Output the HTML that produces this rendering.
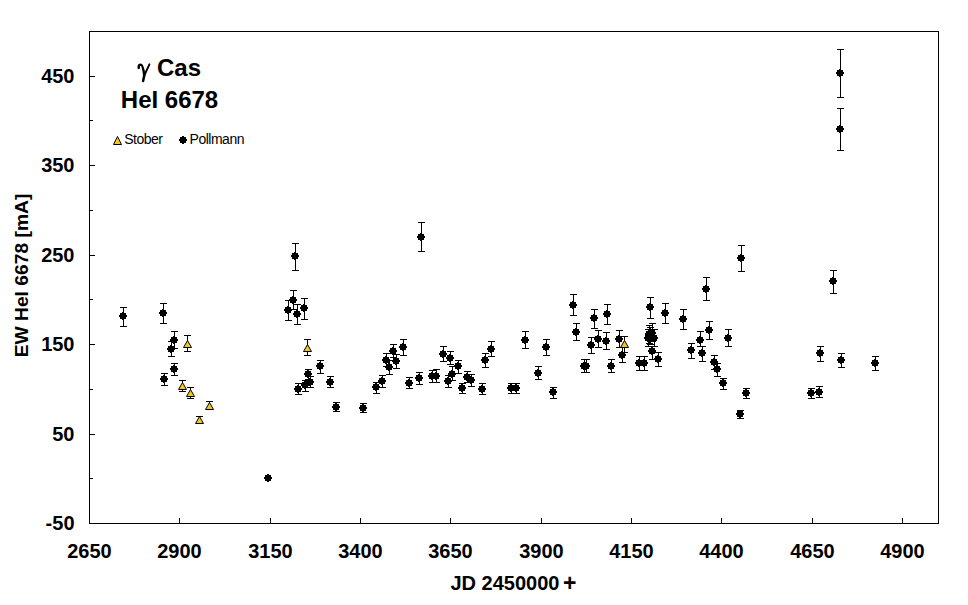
<!DOCTYPE html><html><head><meta charset="utf-8"><style>html,body{margin:0;padding:0;background:#fff;width:968px;height:605px;overflow:hidden}svg{display:block}text{font-family:"Liberation Sans",sans-serif;font-weight:bold;fill:#000}</style></head><body>
<svg width="968" height="605" viewBox="0 0 968 605" shape-rendering="crispEdges">
<rect x="0" y="0" width="968" height="605" fill="#fff"/>
<path d="M89 31H939V524H89Z M90 32V523H938V32Z" fill="#000" fill-rule="evenodd"/>
<path d="M90 478h3v1h-3zM90 434h5v1h-5zM90 389h3v1h-3zM90 344h5v1h-5zM90 299h3v1h-3zM90 255h5v1h-5zM90 210h3v1h-3zM90 165h5v1h-5zM90 120h3v1h-3zM90 76h5v1h-5zM179 518h1v5h-1zM270 518h1v5h-1zM360 518h1v5h-1zM450 518h1v5h-1zM541 518h1v5h-1zM631 518h1v5h-1zM721 518h1v5h-1zM812 518h1v5h-1zM902 518h1v5h-1z" fill="#000"/>
<text x="74.5" y="530.0" font-size="20" text-anchor="end">-50</text>
<text x="74.5" y="441.0" font-size="20" text-anchor="end">50</text>
<text x="74.5" y="351.0" font-size="20" text-anchor="end">150</text>
<text x="74.5" y="262.0" font-size="20" text-anchor="end">250</text>
<text x="74.5" y="172.0" font-size="20" text-anchor="end">350</text>
<text x="74.5" y="83.0" font-size="20" text-anchor="end">450</text>
<text x="89.5" y="558" font-size="20" text-anchor="middle">2650</text>
<text x="179.5" y="558" font-size="20" text-anchor="middle">2900</text>
<text x="270.5" y="558" font-size="20" text-anchor="middle">3150</text>
<text x="360.5" y="558" font-size="20" text-anchor="middle">3400</text>
<text x="450.5" y="558" font-size="20" text-anchor="middle">3650</text>
<text x="541.5" y="558" font-size="20" text-anchor="middle">3900</text>
<text x="631.5" y="558" font-size="20" text-anchor="middle">4150</text>
<text x="721.5" y="558" font-size="20" text-anchor="middle">4400</text>
<text x="812.5" y="558" font-size="20" text-anchor="middle">4650</text>
<text x="902.5" y="558" font-size="20" text-anchor="middle">4900</text>
<text x="450.5" y="590" font-size="20" text-anchor="start">JD 2450000 <tspan font-size="23" dx="-2" dy="0.5">+</tspan></text>
<text transform="translate(28 275.5) rotate(-90)" x="0" y="0" font-size="19.25" text-anchor="middle">EW HeI 6678 [mA]</text>
<text x="157" y="76" font-size="24">Cas</text>
<path d="M138.7,67.9 C138.5,65.4 139.4,64.7 140.8,64.7 C142.4,64.7 143.3,67.5 144.3,75.3 L143.1,81" fill="none" stroke="#000" stroke-width="2.5" stroke-linecap="round" shape-rendering="geometricPrecision"/>
<path d="M149.4,64.3 L144.3,75.5" fill="none" stroke="#000" stroke-width="1.9" stroke-linecap="round" shape-rendering="geometricPrecision"/>
<text x="169.5" y="107.5" font-size="24" text-anchor="middle">HeI 6678</text>
<path d="M123 307h1v20h-1zM120 307h7v1h-7zM120 326h7v1h-7zM163 303h1v21h-1zM160 303h7v1h-7zM160 323h7v1h-7zM174 331h1v18h-1zM171 331h7v1h-7zM171 348h7v1h-7zM171 341h1v16h-1zM168 341h7v1h-7zM168 356h7v1h-7zM174 363h1v13h-1zM171 363h7v1h-7zM171 375h7v1h-7zM164 373h1v13h-1zM161 373h7v1h-7zM161 385h7v1h-7zM295 243h1v28h-1zM292 243h7v1h-7zM292 270h7v1h-7zM293 290h1v20h-1zM290 290h7v1h-7zM290 309h7v1h-7zM288 300h1v21h-1zM285 300h7v1h-7zM285 320h7v1h-7zM297 304h1v21h-1zM294 304h7v1h-7zM294 324h7v1h-7zM304 298h1v22h-1zM301 298h7v1h-7zM301 319h7v1h-7zM308 369h1v11h-1zM305 369h7v1h-7zM305 379h7v1h-7zM305 380h1v12h-1zM302 380h7v1h-7zM302 391h7v1h-7zM310 376h1v12h-1zM307 376h7v1h-7zM307 387h7v1h-7zM298 383h1v12h-1zM295 383h7v1h-7zM295 394h7v1h-7zM320 360h1v14h-1zM317 360h7v1h-7zM317 373h7v1h-7zM330 376h1v12h-1zM327 376h7v1h-7zM327 387h7v1h-7zM336 402h1v10h-1zM333 402h7v1h-7zM333 411h7v1h-7zM363 403h1v10h-1zM360 403h7v1h-7zM360 412h7v1h-7zM376 382h1v12h-1zM373 382h7v1h-7zM373 393h7v1h-7zM382 375h1v13h-1zM379 375h7v1h-7zM379 387h7v1h-7zM386 353h1v14h-1zM383 353h7v1h-7zM383 366h7v1h-7zM389 360h1v15h-1zM386 360h7v1h-7zM386 374h7v1h-7zM393 344h1v14h-1zM390 344h7v1h-7zM390 357h7v1h-7zM396 354h1v15h-1zM393 354h7v1h-7zM393 368h7v1h-7zM403 339h1v17h-1zM400 339h7v1h-7zM400 355h7v1h-7zM409 377h1v12h-1zM406 377h7v1h-7zM406 388h7v1h-7zM419 372h1v13h-1zM416 372h7v1h-7zM416 384h7v1h-7zM432 370h1v13h-1zM429 370h7v1h-7zM429 382h7v1h-7zM436 369h1v14h-1zM433 369h7v1h-7zM433 382h7v1h-7zM421 222h1v30h-1zM418 222h7v1h-7zM418 251h7v1h-7zM443 346h1v16h-1zM440 346h7v1h-7zM440 361h7v1h-7zM450 351h1v14h-1zM447 351h7v1h-7zM447 364h7v1h-7zM458 360h1v14h-1zM455 360h7v1h-7zM455 373h7v1h-7zM452 366h1v15h-1zM449 366h7v1h-7zM449 380h7v1h-7zM448 375h1v13h-1zM445 375h7v1h-7zM445 387h7v1h-7zM467 371h1v12h-1zM464 371h7v1h-7zM464 382h7v1h-7zM471 374h1v13h-1zM468 374h7v1h-7zM468 386h7v1h-7zM462 383h1v11h-1zM459 383h7v1h-7zM459 393h7v1h-7zM482 383h1v12h-1zM479 383h7v1h-7zM479 394h7v1h-7zM485 353h1v15h-1zM482 353h7v1h-7zM482 367h7v1h-7zM491 341h1v16h-1zM488 341h7v1h-7zM488 356h7v1h-7zM511 383h1v11h-1zM508 383h7v1h-7zM508 393h7v1h-7zM516 383h1v11h-1zM513 383h7v1h-7zM513 393h7v1h-7zM525 331h1v18h-1zM522 331h7v1h-7zM522 348h7v1h-7zM538 366h1v14h-1zM535 366h7v1h-7zM535 379h7v1h-7zM546 339h1v17h-1zM543 339h7v1h-7zM543 355h7v1h-7zM553 387h1v12h-1zM550 387h7v1h-7zM550 398h7v1h-7zM573 294h1v22h-1zM570 294h7v1h-7zM570 315h7v1h-7zM576 323h1v18h-1zM573 323h7v1h-7zM573 340h7v1h-7zM594 309h1v20h-1zM591 309h7v1h-7zM591 328h7v1h-7zM607 304h1v21h-1zM604 304h7v1h-7zM604 324h7v1h-7zM591 337h1v17h-1zM588 337h7v1h-7zM588 353h7v1h-7zM598 330h1v18h-1zM595 330h7v1h-7zM595 347h7v1h-7zM606 332h1v18h-1zM603 332h7v1h-7zM603 349h7v1h-7zM619 330h1v18h-1zM616 330h7v1h-7zM616 347h7v1h-7zM622 347h1v16h-1zM619 347h7v1h-7zM619 362h7v1h-7zM584 359h1v14h-1zM581 359h7v1h-7zM581 372h7v1h-7zM586 359h1v14h-1zM583 359h7v1h-7zM583 372h7v1h-7zM611 359h1v14h-1zM608 359h7v1h-7zM608 372h7v1h-7zM650 297h1v22h-1zM647 297h7v1h-7zM647 318h7v1h-7zM665 303h1v21h-1zM662 303h7v1h-7zM662 323h7v1h-7zM652 323h1v19h-1zM649 323h7v1h-7zM649 341h7v1h-7zM649 325h1v19h-1zM646 325h7v1h-7zM646 343h7v1h-7zM650 327h1v18h-1zM647 327h7v1h-7zM647 344h7v1h-7zM648 329h1v18h-1zM645 329h7v1h-7zM645 346h7v1h-7zM654 329h1v18h-1zM651 329h7v1h-7zM651 346h7v1h-7zM652 346h1v14h-1zM649 346h7v1h-7zM649 359h7v1h-7zM658 352h1v15h-1zM655 352h7v1h-7zM655 366h7v1h-7zM639 356h1v15h-1zM636 356h7v1h-7zM636 370h7v1h-7zM644 356h1v15h-1zM641 356h7v1h-7zM641 370h7v1h-7zM706 277h1v24h-1zM703 277h7v1h-7zM703 300h7v1h-7zM683 309h1v21h-1zM680 309h7v1h-7zM680 329h7v1h-7zM709 321h1v19h-1zM706 321h7v1h-7zM706 339h7v1h-7zM700 331h1v16h-1zM697 331h7v1h-7zM697 346h7v1h-7zM728 329h1v18h-1zM725 329h7v1h-7zM725 346h7v1h-7zM691 343h1v16h-1zM688 343h7v1h-7zM688 358h7v1h-7zM702 346h1v16h-1zM699 346h7v1h-7zM699 361h7v1h-7zM714 355h1v15h-1zM711 355h7v1h-7zM711 369h7v1h-7zM717 363h1v14h-1zM714 363h7v1h-7zM714 376h7v1h-7zM723 378h1v12h-1zM720 378h7v1h-7zM720 389h7v1h-7zM741 245h1v27h-1zM738 245h7v1h-7zM738 271h7v1h-7zM746 388h1v11h-1zM743 388h7v1h-7zM743 398h7v1h-7zM740 410h1v9h-1zM737 410h7v1h-7zM737 418h7v1h-7zM820 346h1v16h-1zM817 346h7v1h-7zM817 361h7v1h-7zM841 353h1v15h-1zM838 353h7v1h-7zM838 367h7v1h-7zM875 356h1v15h-1zM872 356h7v1h-7zM872 370h7v1h-7zM811 388h1v11h-1zM808 388h7v1h-7zM808 398h7v1h-7zM819 386h1v12h-1zM816 386h7v1h-7zM816 397h7v1h-7zM840 49h1v49h-1zM837 49h7v1h-7zM837 97h7v1h-7zM840 108h1v43h-1zM837 108h7v1h-7zM837 150h7v1h-7zM833 270h1v24h-1zM830 270h7v1h-7zM830 293h7v1h-7z" fill="#000"/>
<path d="M122 312H124V313H126V315H127V317H126V319H124V320H122V319H120V317H119V315H120V313H122ZM162 309H164V310H166V312H167V314H166V316H164V317H162V316H160V314H159V312H160V310H162ZM173 336H175V337H177V339H178V341H177V343H175V344H173V343H171V341H170V339H171V337H173ZM170 345H172V346H174V348H175V350H174V352H172V353H170V352H168V350H167V348H168V346H170ZM173 365H175V366H177V368H178V370H177V372H175V373H173V372H171V370H170V368H171V366H173ZM163 375H165V376H167V378H168V380H167V382H165V383H163V382H161V380H160V378H161V376H163ZM267 474H269V475H271V477H272V479H271V481H269V482H267V481H265V479H264V477H265V475H267ZM294 252H296V253H298V255H299V257H298V259H296V260H294V259H292V257H291V255H292V253H294ZM292 296H294V297H296V299H297V301H296V303H294V304H292V303H290V301H289V299H290V297H292ZM287 306H289V307H291V309H292V311H291V313H289V314H287V313H285V311H284V309H285V307H287ZM296 310H298V311H300V313H301V315H300V317H298V318H296V317H294V315H293V313H294V311H296ZM303 304H305V305H307V307H308V309H307V311H305V312H303V311H301V309H300V307H301V305H303ZM307 370H309V371H311V373H312V375H311V377H309V378H307V377H305V375H304V373H305V371H307ZM304 381H306V382H308V384H309V386H308V388H306V389H304V388H302V386H301V384H302V382H304ZM309 378H311V379H313V381H314V383H313V385H311V386H309V385H307V383H306V381H307V379H309ZM297 385H299V386H301V388H302V390H301V392H299V393H297V392H295V390H294V388H295V386H297ZM319 362H321V363H323V365H324V367H323V369H321V370H319V369H317V367H316V365H317V363H319ZM329 378H331V379H333V381H334V383H333V385H331V386H329V385H327V383H326V381H327V379H329ZM335 403H337V404H339V406H340V408H339V410H337V411H335V410H333V408H332V406H333V404H335ZM362 404H364V405H366V407H367V409H366V411H364V412H362V411H360V409H359V407H360V405H362ZM375 383H377V384H379V386H380V388H379V390H377V391H375V390H373V388H372V386H373V384H375ZM381 377H383V378H385V380H386V382H385V384H383V385H381V384H379V382H378V380H379V378H381ZM385 356H387V357H389V359H390V361H389V363H387V364H385V363H383V361H382V359H383V357H385ZM388 363H390V364H392V366H393V368H392V370H390V371H388V370H386V368H385V366H386V364H388ZM392 347H394V348H396V350H397V352H396V354H394V355H392V354H390V352H389V350H390V348H392ZM395 357H397V358H399V360H400V362H399V364H397V365H395V364H393V362H392V360H393V358H395ZM402 343H404V344H406V346H407V348H406V350H404V351H402V350H400V348H399V346H400V344H402ZM408 379H410V380H412V382H413V384H412V386H410V387H408V386H406V384H405V382H406V380H408ZM418 374H420V375H422V377H423V379H422V381H420V382H418V381H416V379H415V377H416V375H418ZM431 372H433V373H435V375H436V377H435V379H433V380H431V379H429V377H428V375H429V373H431ZM435 372H437V373H439V375H440V377H439V379H437V380H435V379H433V377H432V375H433V373H435ZM420 233H422V234H424V236H425V238H424V240H422V241H420V240H418V238H417V236H418V234H420ZM442 350H444V351H446V353H447V355H446V357H444V358H442V357H440V355H439V353H440V351H442ZM449 354H451V355H453V357H454V359H453V361H451V362H449V361H447V359H446V357H447V355H449ZM457 362H459V363H461V365H462V367H461V369H459V370H457V369H455V367H454V365H455V363H457ZM451 370H453V371H455V373H456V375H455V377H453V378H451V377H449V375H448V373H449V371H451ZM447 377H449V378H451V380H452V382H451V384H449V385H447V384H445V382H444V380H445V378H447ZM466 373H468V374H470V376H471V378H470V380H468V381H466V380H464V378H463V376H464V374H466ZM470 376H472V377H474V379H475V381H474V383H472V384H470V383H468V381H467V379H468V377H470ZM461 384H463V385H465V387H466V389H465V391H463V392H461V391H459V389H458V387H459V385H461ZM481 385H483V386H485V388H486V390H485V392H483V393H481V392H479V390H478V388H479V386H481ZM484 356H486V357H488V359H489V361H488V363H486V364H484V363H482V361H481V359H482V357H484ZM490 345H492V346H494V348H495V350H494V352H492V353H490V352H488V350H487V348H488V346H490ZM510 384H512V385H514V387H515V389H514V391H512V392H510V391H508V389H507V387H508V385H510ZM515 384H517V385H519V387H520V389H519V391H517V392H515V391H513V389H512V387H513V385H515ZM524 336H526V337H528V339H529V341H528V343H526V344H524V343H522V341H521V339H522V337H524ZM537 369H539V370H541V372H542V374H541V376H539V377H537V376H535V374H534V372H535V370H537ZM545 343H547V344H549V346H550V348H549V350H547V351H545V350H543V348H542V346H543V344H545ZM552 388H554V389H556V391H557V393H556V395H554V396H552V395H550V393H549V391H550V389H552ZM572 301H574V302H576V304H577V306H576V308H574V309H572V308H570V306H569V304H570V302H572ZM575 328H577V329H579V331H580V333H579V335H577V336H575V335H573V333H572V331H573V329H575ZM593 314H595V315H597V317H598V319H597V321H595V322H593V321H591V319H590V317H591V315H593ZM606 310H608V311H610V313H611V315H610V317H608V318H606V317H604V315H603V313H604V311H606ZM590 341H592V342H594V344H595V346H594V348H592V349H590V348H588V346H587V344H588V342H590ZM597 335H599V336H601V338H602V340H601V342H599V343H597V342H595V340H594V338H595V336H597ZM605 337H607V338H609V340H610V342H609V344H607V345H605V344H603V342H602V340H603V338H605ZM618 335H620V336H622V338H623V340H622V342H620V343H618V342H616V340H615V338H616V336H618ZM621 351H623V352H625V354H626V356H625V358H623V359H621V358H619V356H618V354H619V352H621ZM583 362H585V363H587V365H588V367H587V369H585V370H583V369H581V367H580V365H581V363H583ZM585 362H587V363H589V365H590V367H589V369H587V370H585V369H583V367H582V365H583V363H585ZM610 362H612V363H614V365H615V367H614V369H612V370H610V369H608V367H607V365H608V363H610ZM649 303H651V304H653V306H654V308H653V310H651V311H649V310H647V308H646V306H647V304H649ZM664 309H666V310H668V312H669V314H668V316H666V317H664V316H662V314H661V312H662V310H664ZM651 329H653V330H655V332H656V334H655V336H653V337H651V336H649V334H648V332H649V330H651ZM648 330H650V331H652V333H653V335H652V337H650V338H648V337H646V335H645V333H646V331H648ZM649 332H651V333H653V335H654V337H653V339H651V340H649V339H647V337H646V335H647V333H649ZM647 334H649V335H651V337H652V339H651V341H649V342H647V341H645V339H644V337H645V335H647ZM653 334H655V335H657V337H658V339H657V341H655V342H653V341H651V339H650V337H651V335H653ZM651 347H653V348H655V350H656V352H655V354H653V355H651V354H649V352H648V350H649V348H651ZM657 355H659V356H661V358H662V360H661V362H659V363H657V362H655V360H654V358H655V356H657ZM638 359H640V360H642V362H643V364H642V366H640V367H638V366H636V364H635V362H636V360H638ZM643 359H645V360H647V362H648V364H647V366H645V367H643V366H641V364H640V362H641V360H643ZM705 285H707V286H709V288H710V290H709V292H707V293H705V292H703V290H702V288H703V286H705ZM682 315H684V316H686V318H687V320H686V322H684V323H682V322H680V320H679V318H680V316H682ZM708 326H710V327H712V329H713V331H712V333H710V334H708V333H706V331H705V329H706V327H708ZM699 336H701V337H703V339H704V341H703V343H701V344H699V343H697V341H696V339H697V337H699ZM727 334H729V335H731V337H732V339H731V341H729V342H727V341H725V339H724V337H725V335H727ZM690 346H692V347H694V349H695V351H694V353H692V354H690V353H688V351H687V349H688V347H690ZM701 349H703V350H705V352H706V354H705V356H703V357H701V356H699V354H698V352H699V350H701ZM713 358H715V359H717V361H718V363H717V365H715V366H713V365H711V363H710V361H711V359H713ZM716 365H718V366H720V368H721V370H720V372H718V373H716V372H714V370H713V368H714V366H716ZM722 379H724V380H726V382H727V384H726V386H724V387H722V386H720V384H719V382H720V380H722ZM740 254H742V255H744V257H745V259H744V261H742V262H740V261H738V259H737V257H738V255H740ZM745 389H747V390H749V392H750V394H749V396H747V397H745V396H743V394H742V392H743V390H745ZM739 410H741V411H743V413H744V415H743V417H741V418H739V417H737V415H736V413H737V411H739ZM819 349H821V350H823V352H824V354H823V356H821V357H819V356H817V354H816V352H817V350H819ZM840 356H842V357H844V359H845V361H844V363H842V364H840V363H838V361H837V359H838V357H840ZM874 359H876V360H878V362H879V364H878V366H876V367H874V366H872V364H871V362H872V360H874ZM810 389H812V390H814V392H815V394H814V396H812V397H810V396H808V394H807V392H808V390H810ZM818 388H820V389H822V391H823V393H822V395H820V396H818V395H816V393H815V391H816V389H818ZM839 69H841V70H843V72H844V74H843V76H841V77H839V76H837V74H836V72H837V70H839ZM839 125H841V126H843V128H844V130H843V132H841V133H839V132H837V130H836V128H837V126H839ZM832 277H834V278H836V280H837V282H836V284H834V285H832V284H830V282H829V280H830V278H832Z" fill="#000"/>
<path d="M187 335h1v17h-1zM184 335h7v1h-7zM184 351h7v1h-7zM182 380h1v12h-1zM179 380h7v1h-7zM179 391h7v1h-7zM190 387h1v12h-1zM187 387h7v1h-7zM187 398h7v1h-7zM209 401h1v9h-1zM206 401h7v1h-7zM206 409h7v1h-7zM199 416h1v7h-1zM196 416h7v1h-7zM196 422h7v1h-7zM307 339h1v17h-1zM304 339h7v1h-7zM304 355h7v1h-7zM624 336h1v17h-1zM621 336h7v1h-7zM621 352h7v1h-7z" fill="#000"/>
<polygon points="187.5,340.5 183.5,347.5 191.5,347.5" fill="#F2C81E" stroke="#000" stroke-width="1" shape-rendering="geometricPrecision"/>
<polygon points="182.5,382.5 178.5,389.5 186.5,389.5" fill="#F2C81E" stroke="#000" stroke-width="1" shape-rendering="geometricPrecision"/>
<polygon points="190.5,389.5 186.5,396.5 194.5,396.5" fill="#F2C81E" stroke="#000" stroke-width="1" shape-rendering="geometricPrecision"/>
<polygon points="209.5,402.5 205.5,409.5 213.5,409.5" fill="#F2C81E" stroke="#000" stroke-width="1" shape-rendering="geometricPrecision"/>
<polygon points="199.5,416.5 195.5,423.5 203.5,423.5" fill="#F2C81E" stroke="#000" stroke-width="1" shape-rendering="geometricPrecision"/>
<polygon points="307.5,344.5 303.5,351.5 311.5,351.5" fill="#F2C81E" stroke="#000" stroke-width="1" shape-rendering="geometricPrecision"/>
<polygon points="624.5,340.5 620.5,347.5 628.5,347.5" fill="#F2C81E" stroke="#000" stroke-width="1" shape-rendering="geometricPrecision"/>
<polygon points="117.5,136.5 113.5,144.5 121.5,144.5" fill="#F2C81E" stroke="#000" stroke-width="1" shape-rendering="geometricPrecision"/>
<text x="124.2" y="144" font-size="14" style="font-weight:normal;letter-spacing:-0.5px">Stober</text>
<path d="M182 136H184V137H186V139H187V141H186V143H184V144H182V143H180V141H179V139H180V137H182Z" fill="#000"/>
<text x="189.6" y="144" font-size="14" style="font-weight:normal;letter-spacing:-0.5px">Pollmann</text>
</svg></body></html>
